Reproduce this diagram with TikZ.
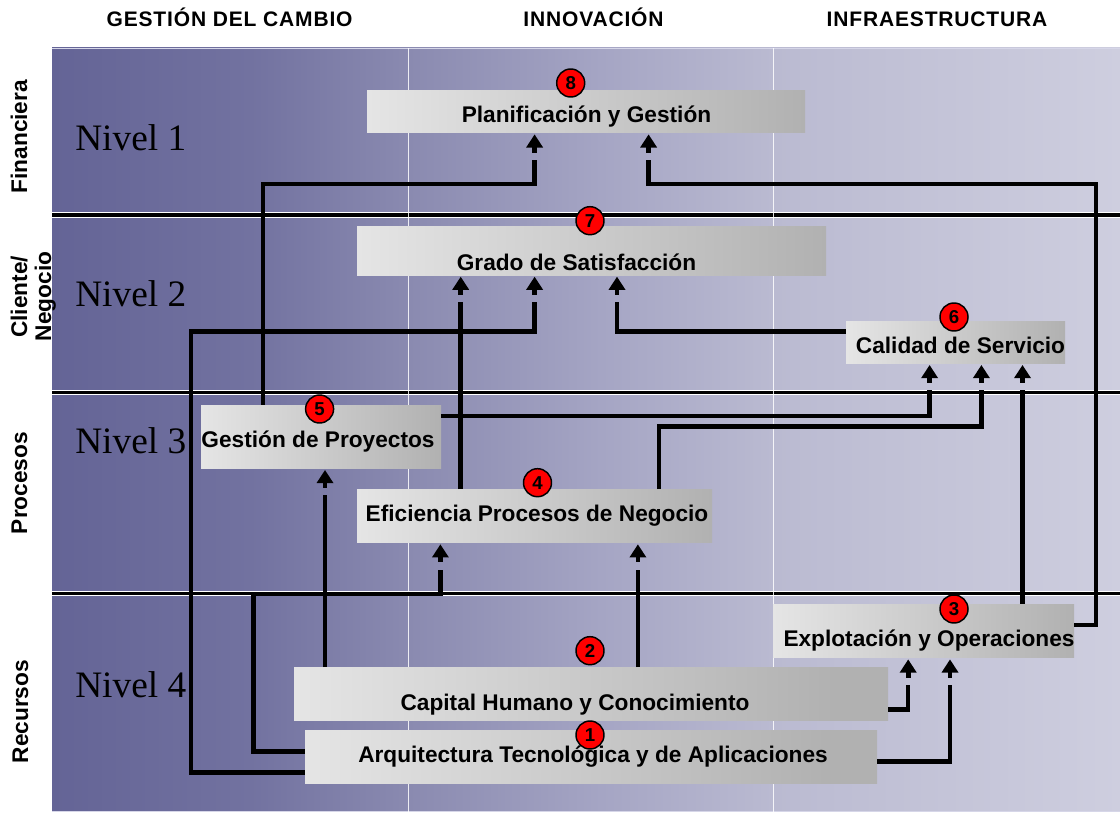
\documentclass[tikz,border=0pt]{standalone}
\usepackage{fontspec}
\setmainfont{Liberation Sans}
\newfontfamily\nivelfont{Liberation Serif}
\newfontfamily\headfont{Liberation Sans}[LetterSpace=4]
\usetikzlibrary{decorations.markings}

% background panel tones, dark on the left, pale on the right
\definecolor{panA}{RGB}{100,100,150}
\definecolor{panB}{RGB}{114,114,160}
\definecolor{panC}{RGB}{138,138,176}
\definecolor{panD}{RGB}{165,165,196}
\definecolor{panE}{RGB}{186,186,209}
\definecolor{panF}{RGB}{206,206,223}
% grey boxes
\definecolor{boxL}{RGB}{229,229,229}
\definecolor{boxR}{RGB}{177,177,177}
\definecolor{rim}{RGB}{214,214,232}

\pgfdeclarehorizontalshading{panelshade}{100bp}{color(0bp)=(panA); color(25bp)=(panA); color(34.3bp)=(panB); color(41.7bp)=(panC); color(50.7bp)=(panD); color(58.75bp)=(panE); color(75bp)=(panF); color(100bp)=(panF)}
\pgfdeclarehorizontalshading{tailshade}{100bp}{color(0bp)=(boxL); color(25bp)=(boxL); color(70.5bp)=(boxR); color(100bp)=(boxR)}

\tikzset{
  stagebox/.style 2 args={rectangle, inner sep=0pt, minimum width=#1*0.75pt, minimum height=#2*0.75pt, left color=boxL, right color=boxR},
  tailbox/.style 2 args={rectangle, inner sep=0pt, minimum width=#1*0.75pt, minimum height=#2*0.75pt, shade, shading=tailshade},
  boxtext/.style={font=\fontsize{17}{20}\selectfont\bfseries, anchor=base, inner sep=0pt},
  headtext/.style={font=\headfont\fontsize{15.75}{18}\selectfont\bfseries, anchor=base, inner sep=0pt},
  sidetext/.style={font=\fontsize{17}{20}\selectfont\bfseries, rotate=90, anchor=base, inner sep=0pt},
  niveltext/.style={font=\nivelfont\fontsize{28}{30}\selectfont, anchor=base west, inner sep=0pt},
  badge/.style={circle, draw=black, line width=1.1pt, fill=red, inner sep=0pt, minimum size=21pt, font=\fontsize{14}{15}\selectfont\bfseries},
  conn/.style={draw=black, line width=3.4pt, line join=miter},
  arrowed/.style={conn, shorten >=20pt, postaction={decorate},
    decoration={markings, mark=at position 1 with {
      \fill[black] (-1.5,0) -- (-14.5,8.5) -- (-14.5,-8.5) -- cycle;
      \fill[black] (-14,-2.3) rectangle (-19.5,2.3);}}},
}

\begin{document}
\begin{tikzpicture}[x=0.75pt,y=-0.75pt]
\useasboundingbox (0,0) rectangle (1120,813);

% panel
\shade[shading=panelshade] (52,48) rectangle (1120,811.5);
\draw[rim, line width=1pt] (52,48.5) -- (1120,48.5);
\draw[rim, line width=1pt] (52,811.5) -- (1120,811.5);

% row separators
\foreach \yy in {215,392.5,593.5}{
  \draw[white, line width=4.1pt] (52,\yy) -- (1120,\yy);
  \draw[black, line width=2.5pt] (52,\yy) -- (1120,\yy);
}
% column separators
\foreach \xx in {408.5,773.5}{
  \draw[white, opacity=0.85, line width=1.2pt] (\xx,48) -- (\xx,811.5);
}

% column headings
\node[headtext] (h1) at (229.6,26.7) {GESTIÓN DEL CAMBIO};
\node[headtext] (h2) at (593.5,26.7) {INNOVACIÓN};
\node[headtext] (h3) at (937,26.7) {INFRAESTRUCTURA};

% row headings
\node[sidetext] (r1) at (27,136.7) {Financiera};
\node[sidetext] (r2a) at (27,297) {Cliente/};
\node[sidetext] (r2b) at (51,296.5) {Negocio};
\node[sidetext] (r3) at (27,483) {Procesos};
\node[sidetext] (r4) at (28,711.7) {Recursos};

% levels
\node[niveltext] (lv1) at (75,150.7) {Nivel 1};
\node[niveltext] (lv2) at (75,306) {Nivel 2};
\node[niveltext] (lv3) at (75,453.3) {Nivel 3};
\node[niveltext] (lv4) at (75,697.3) {Nivel 4};

% boxes
\node[stagebox={438}{42.7}] (plan) at (586,111.4) {};
\node[stagebox={469}{48.3}] (grado) at (591.5,250.9) {};
\node[stagebox={219}{42.3}] (cal) at (955.5,342.2) {};
\node[stagebox={240}{63.3}] (gp) at (321,436.7) {};
\node[stagebox={355}{53.4}] (ef) at (534.5,516) {};
\node[stagebox={301}{53.7}] (exp) at (923.5,630.9) {};
\node[tailbox={594}{52.7}] (cap) at (591,693.7) {};
\node[tailbox={572}{53}] (arq) at (591,756.5) {};

\node[boxtext] (plan-t) at (586.5,123) {Planificación y Gestión};
\node[boxtext] (grado-t) at (576.5,270) {Grado de Satisfacción};
\node[boxtext] (cal-t) at (960.5,353.3) {Calidad de Servicio};
\node[boxtext] (gp-t) at (318,447.3) {Gestión de Proyectos};
\node[boxtext] (ef-t) at (537,521.7) {Eficiencia Procesos de Negocio};
\node[boxtext] (exp-t) at (929,646.7) {Explotación y Operaciones};
\node[boxtext] (cap-t) at (575,710) {Capital Humano y Conocimiento};
\node[boxtext] (arq-t) at (593,762.7) {Arquitectura Tecnológica y de Aplicaciones};

% connectors
\draw[arrowed] (gp.north -| 263,0) |- (534.6,184) -- (plan.south -| 534.6,0);
\draw[arrowed] (exp.east |- 0,625) -| (1096,184) -| (plan.south -| 648.6,0);
\draw[arrowed] (ef.north -| 460.7,0) -- (grado.south -| 460.7,0);
\draw[arrowed] (arq.west |- 0,772.7) -| (191,331.7) -| (grado.south -| 534.6,0);
\draw[arrowed] (cal.west |- 0,331.7) -| (grado.south -| 617,0);
\draw[arrowed] (gp.east |- 0,416) -| (cal.south -| 929.6,0);
\draw[arrowed] (ef.north -| 659,0) |- (981.4,426.7) -- (cal.south -| 981.4,0);
\draw[arrowed] (exp.north -| 1022.5,0) -- (cal.south -| 1022.5,0);
\draw[arrowed] (cap.north -| 325,0) -- (gp.south -| 325,0);
\draw[arrowed] (arq.west |- 0,751.7) -| (253.6,594) -| (ef.south -| 440.4,0);
\draw[arrowed] (cap.north -| 637.9,0) -- (ef.south -| 637.9,0);
\draw[arrowed] (cap.east |- 0,709.3) -| (exp.south -| 908.2,0);
\draw[arrowed] (arq.east |- 0,761.7) -| (exp.south -| 950,0);

% numbered badges
\node[badge] (b8) at (570.7,83) {8};
\node[badge] (b7) at (590,220.7) {7};
\node[badge] (b6) at (954,317) {6};
\node[badge] (b5) at (319.6,409) {5};
\node[badge] (b4) at (537.5,482.7) {4};
\node[badge] (b3) at (954,609) {3};
\node[badge] (b2) at (590,650.7) {2};
\node[badge] (b1) at (590,735) {1};
\end{tikzpicture}
\end{document}
